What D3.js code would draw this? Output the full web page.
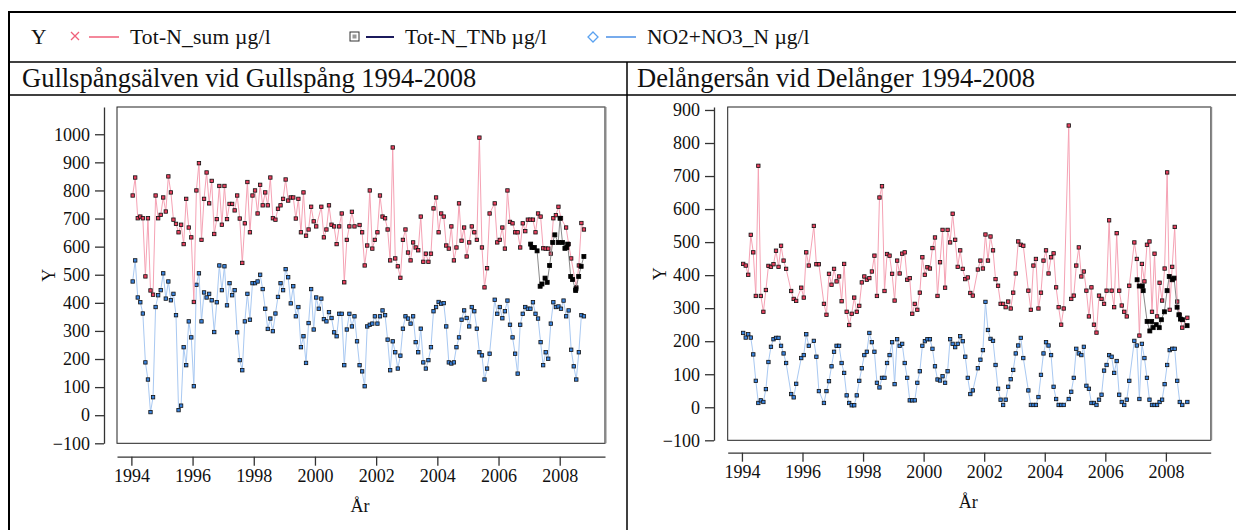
<!DOCTYPE html>
<html>
<head>
<meta charset="utf-8">
<script src="https://cdn.jsdelivr.net/npm/d3@7"></script>
<style>
  body { margin: 0; background: #fff; }
  svg text { font-family: "Liberation Serif", "DejaVu Serif", serif; fill: #111; }
</style>
</head>
<body>
<svg width="1236" height="530"></svg>
<script>
// monthly samples starting Jan 1994, null = no sample that month
var startYear = 1994;

var gullTotN = [
  782, 846, 701, 707, 701, 494, 701, 444, 429, 782, 701, 713, // 1994
  775, 725, 850, 793, 696, 681, 651, 678, 609, 770, 668, 633, // 1995
  403, 800, 897, 624, 770, 864, 754, 834, 645, 698, 816, 678, // 1996
  816, 698, 752, 752, 729, 782, 700, 542, 683, 830, 651, 782, // 1997
  800, 718, 820, 747, 793, 747, 846, 701, 696, 735, 747, 770, // 1998
  839, 764, 775, 775, 700, 770, 651, 793, 639, 661, 742, 690, // 1999
  672, null, 742, 633, 661, 747, 678, 672, 609, 672, 718, 473, // 2000
  624, 672, 724, 672, null, 677, 651, 533, 604, 800, 593, 624, // 2001
  651, 782, 707, 701, 661, 551, 953, 558, 530, 489, 624, 661, // 2002
  579, 551, 615, 597, 587, 707, 546, 575, 546, 575, 736, 775, // 2003
  651, 718, 707, 604, 593, 672, 551, 597, 754, 621, 668, 565, // 2004
  615, 672, 651, 624, 988, 597, 455, 523, 718, null, 754, 615, // 2005
  624, 668, 593, 800, 688, 683, 651, 651, 597, 683, 655, 696, // 2006
  696, 696, 651, 718, 707, 594, 593, 593, 575, 701, 712, 742, // 2007
  701, null, 668, 609, 558, null, 455, 533, 684, 661          // 2008
];

var gullNO3 = [
  476, 551, 419, 402, 362, 188, 127, 11, 64, 385, 427, 445,
  505, 415, 476, 409, 432, 356, 18, 34, 242, 178, 334, 277,
  103, 464, 505, 334, 437, 419, 432, 409, 296, 402, 533, 445,
  530, 391, 470, 427, 445, 295, 196, 160, 334, 432, 340, 470,
  470, 476, 500, 449, 379, 307, 344, 299, 362, 421, 470, 445,
  520, 491, 398, 459, 352, 385, 242, 281, 186, 328, 449, 305,
  419, 379, 415, 342, 334, 367, 346, 295, 281, 361, 361, 178,
  305, 361, 316, 352, 263, 178, 156, 103, 316, 322, 326, 352,
  326, 352, 373, 356, 269, 160, 263, 224, 166, 212, 308, 352,
  344, 326, 352, 260, 224, 308, 188, 166, 196, 242, 370, 385,
  403, 397, 399, 316, 188, 184, 188, 242, 277, 340, 373, 346,
  316, 385, 370, 308, 224, 213, 127, 166, 219, null, 411, 361,
  385, 345, 370, 408, 322, 277, 219, 148, 322, 361, 385, 379,
  379, 402, 361, 344, 260, 178, 224, 201, 326, 402, 385, 387,
  379, 408, 352, 373, 233, 174, 127, 224, 356, 352
];

var gullTNbDates = [2007.05, 2007.09, 2007.17, 2007.26, 2007.36, 2007.42, 2007.52, 2007.59,
  2007.67, 2007.77, 2007.84, 2007.95, 2008.01, 2008.09, 2008.17, 2008.23, 2008.26,
  2008.36, 2008.42, 2008.52, 2008.53, 2008.62, 2008.70, 2008.79];
var gullTNb = [609, 597, 597, 585, 459, 467, 488, 473, 533, 615, 642, 615, 701, 615, 594,
  597, 609, 494, 483, 444, 450, 494, 530, 565];

var delTotN = [
  434, 429, 401, 522, 469, 337, 731, 337, 289, 355, 428, 425, // 1994
  433, 474, 425, 489, 444, 419, null, 352, 328, 322, null, 362, // 1995
  332, 469, 429, null, 549, 433, 433, null, 313, 280, 404, 371, // 1996
  419, 381, 396, 321, 434, 289, 249, 283, 332, 289, 307, 378, // 1997
  396, 386, 391, 411, 459, 337, 635, 669, 352, 464, 459, 404, // 1998
  323, 444, 405, 465, 469, 386, 391, 283, 313, 295, 347, 454, // 1999
  401, 424, 420, 482, 514, 337, 439, 537, 362, 537, 499, 586, // 2000
  507, 425, 475, 419, 388, 393, 346, 338, null, 417, 444, 420, // 2001
  523, 444, 517, 475, 388, 368, 313, 313, 303, 320, 299, 347, // 2002
  405, 502, 492, 489, null, 353, 295, 429, 449, 299, 347, 444, // 2003
  475, 405, 454, 466, 363, 303, 250, 299, null, 853, 328, 338, // 2004
  429, 484, 396, 411, 353, 275, 363, 250, 226, 338, 328, 313, // 2005
  353, 566, 353, 303, 527, 353, 308, 289, 275, 368, null, 499, // 2006
  449, 217, 434, 381, 492, 502, 289, 465, 275, 377, 323, 420, // 2007
  711, 295, 425, 546, 320, 280, 241, null, 271                // 2008
];

var delNO3 = [
  225, 211, 221, 211, 160, 80, 13, 21, 16, 55, 137, 183,
  206, 210, 210, 186, 163, 134, null, 40, 30, 71, null, 149,
  158, 221, 186, null, 201, 153, 49, null, 13, 49, 79, 124,
  168, 186, 186, 134, 104, 36, 13, 6, 6, 36, 80, 118,
  158, 168, 225, 197, 168, 74, 60, 89, 89, 134, 158, 197,
  70, 206, 186, 192, 134, 89, 21, 21, 21, 74, 109, 186,
  200, 206, 206, 177, 124, 84, 81, 94, 74, 109, 206, 192,
  182, 192, 215, 200, 153, 89, 40, 51, null, 118, 144, 173,
  319, 234, 207, 201, 128, 56, 23, 7, 23, 62, 85, 113,
  163, 187, 210, 149, null, 51, 7, 7, 7, 31, 98, 163,
  197, 187, 158, 62, 25, 7, 7, 7, null, 25, 47, 89,
  177, 163, 158, 183, 65, 56, 13, 13, 7, 23, 38, 111,
  128, 158, 153, 104, 140, 38, 16, 7, 23, 80, null, 201,
  187, 25, 192, 149, 89, 23, 7, 7, 7, 16, 23, 70,
  128, 173, 177, 177, 80, 16, 7, null, 16
];

var delTNbDates = [2007.05, 2007.12, 2007.22, 2007.25, 2007.38, 2007.47, 2007.53, 2007.58,
  2007.68, 2007.78, 2007.85, 2007.95, 2008.04, 2008.11, 2008.21, 2008.27, 2008.37,
  2008.43, 2008.48, 2008.55, 2008.70];
var delTNb = [386, 367, 367, 353, 260, 231, 260, 241, 250, 241, 265, 289, 353, 396, 386,
  391, 303, 280, 267, 265, 247];

var yearTicks = [1994, 1996, 1998, 2000, 2002, 2004, 2006, 2008];
var gullYTicks = [-100, 0, 100, 200, 300, 400, 500, 600, 700, 800, 900, 1000];
var delYTicks = [-100, 0, 100, 200, 300, 400, 500, 600, 700, 800, 900];
var titles = ["Gullspångsälven vid Gullspång 1994-2008", "Delångersån vid Delånger 1994-2008"];
var legendNames = ["Tot-N_sum µg/l", "Tot-N_TNb µg/l", "NO2+NO3_N µg/l"];

var serif = "'Liberation Serif', 'DejaVu Serif', serif";
var pinkLine = "#f5a2b4", redFill = "#e8415f";
var blueLine = "#a9c9f2", blueFill = "#3b84de";

var svg = d3.select("svg");

// outer table lines
var frame = svg.append("g").attr("stroke", "#000");
frame.append("line").attr("x1", 8).attr("x2", 1236).attr("y1", 12).attr("y2", 12).attr("stroke-width", 2);
frame.append("line").attr("x1", 8).attr("x2", 1236).attr("y1", 62).attr("y2", 62).attr("stroke-width", 1.5);
frame.append("line").attr("x1", 8).attr("x2", 1236).attr("y1", 95).attr("y2", 95).attr("stroke-width", 1.5);
frame.append("line").attr("x1", 9).attr("x2", 9).attr("y1", 11).attr("y2", 530).attr("stroke-width", 2);
frame.append("line").attr("x1", 627).attr("x2", 627).attr("y1", 62).attr("y2", 530).attr("stroke-width", 1.5);

// legend
var leg = svg.append("g").attr("font-size", 21.5).attr("font-family", serif);
leg.append("text").attr("x", 31).attr("y", 44).text("Y");
var lg1 = leg.append("g");
lg1.append("path").attr("d", "M71,32L79,40M79,32L71,40").attr("stroke", "#f0607a").attr("stroke-width", 1.3);
lg1.append("line").attr("x1", 89).attr("x2", 119).attr("y1", 37).attr("y2", 37).attr("stroke", "#f0607a").attr("stroke-width", 1.5);
lg1.append("text").attr("x", 130).attr("y", 44).attr("letter-spacing", 0.2).text(legendNames[0]);
var lg2 = leg.append("g");
lg2.append("rect").attr("x", 350).attr("y", 32).attr("width", 9).attr("height", 9).attr("fill", "#fff").attr("stroke", "#333").attr("stroke-width", 1);
lg2.append("rect").attr("x", 352.5).attr("y", 34.5).attr("width", 4).attr("height", 4).attr("fill", "#999");
lg2.append("line").attr("x1", 366).attr("x2", 394).attr("y1", 37).attr("y2", 37).attr("stroke", "#1b1a5c").attr("stroke-width", 2);
lg2.append("text").attr("x", 405).attr("y", 44).text(legendNames[1]);
var lg3 = leg.append("g");
lg3.append("path").attr("d", "M593,32L598,37L593,42L588,37Z").attr("fill", "#fff").attr("stroke", "#5aa2f0").attr("stroke-width", 1.3);
lg3.append("line").attr("x1", 606).attr("x2", 636).attr("y1", 37).attr("y2", 37).attr("stroke", "#4a8fe6").attr("stroke-width", 1.5);
lg3.append("text").attr("x", 647).attr("y", 44).text(legendNames[2]);

var panels = [
  { title: titles[0], tx: 22, left: 117, right: 605, top: 107, bottom: 443.3, axisX: 104, axisY: 456.7,
    yMax: 1097, yTicks: gullYTicks, sum: gullTotN, no3: gullNO3, tnbDates: gullTNbDates, tnb: gullTNb,
    arY: 512, yLabX: 55 },
  { title: titles[1], tx: 637, left: 727.7, right: 1210.7, top: 107, bottom: 440.3, axisX: 714, axisY: 452.7,
    yMax: 909, yTicks: delYTicks, sum: delTotN, no3: delNO3, tnbDates: delTNbDates, tnb: delTNb,
    arY: 508, yLabX: 666 }
];

function monthly(arr) {
  return arr.map(function(v, i) { return { t: startYear + (i + 0.5) / 12, v: v }; })
    .filter(function(d) { return d.v != null; });
}

panels.forEach(function(p) {
  svg.append("text").attr("x", p.tx).attr("y", 87).attr("font-size", 26.5).attr("font-family", serif).text(p.title);

  var x = d3.scaleLinear().domain([1993.53, 2009.48]).range([p.left, p.right]);
  var y = d3.scaleLinear().domain([-100, p.yMax]).range([p.bottom, p.top]);

  var g = svg.append("g");

  // plot frame
  g.append("rect").attr("x", p.left).attr("y", p.top).attr("width", p.right - p.left).attr("height", p.bottom - p.top)
    .attr("fill", "#fff").attr("stroke", "#222").attr("stroke-width", 1);
  g.append("line").attr("x1", p.right + 0.5).attr("x2", p.right + 0.5).attr("y1", p.top).attr("y2", p.bottom)
    .attr("stroke", "#888").attr("stroke-width", 2);

  var yAxis = g.append("g").attr("transform", "translate(" + p.axisX + ",0)")
    .call(d3.axisLeft(y).tickValues(p.yTicks).tickFormat(d3.format("d")).tickSize(9).tickSizeOuter(0).tickPadding(5));
  var xAxis = g.append("g").attr("transform", "translate(0," + p.axisY + ")")
    .call(d3.axisBottom(x).tickValues(yearTicks).tickFormat(d3.format("d")).tickSize(9).tickSizeOuter(0).tickPadding(4));
  [yAxis, xAxis].forEach(function(a) {
    a.attr("font-family", serif).attr("font-size", 18);
    a.selectAll("path, line").attr("stroke", "#333").attr("stroke-width", 1.3);
    a.selectAll("text").attr("fill", "#111");
  });

  g.append("text").attr("x", (p.left + p.right) / 2 - 1).attr("y", p.arY).attr("text-anchor", "middle")
    .attr("font-size", 18).attr("font-family", serif).text("År");
  g.append("text").attr("transform", "translate(" + p.yLabX + "," + ((p.top + p.bottom) / 2) + ") rotate(-90)")
    .attr("text-anchor", "middle").attr("font-size", 18).attr("font-family", serif).text("Y");

  var line = d3.line().x(function(d) { return x(d.t); }).y(function(d) { return y(d.v); });
  var sumPts = monthly(p.sum), no3Pts = monthly(p.no3);
  var tnbPts = p.tnb.map(function(v, i) { return { t: p.tnbDates[i], v: v }; });

  function series(pts, lineColor, fill, size, stroke) {
    g.append("path").datum(pts).attr("d", line).attr("fill", "none").attr("stroke", lineColor).attr("stroke-width", 1);
    g.append("g").selectAll("rect").data(pts).enter().append("rect")
      .attr("x", function(d) { return x(d.t) - size / 2; })
      .attr("y", function(d) { return y(d.v) - size / 2; })
      .attr("width", size).attr("height", size)
      .attr("fill", fill).attr("stroke", stroke).attr("stroke-width", 0.8);
  }
  series(no3Pts, blueLine, blueFill, 3.4, "#111");
  series(sumPts, pinkLine, redFill, 3.4, "#111");
  series(tnbPts, "#8a8a8a", "#000", 4, "#000");
});
</script>
</body>
</html>
